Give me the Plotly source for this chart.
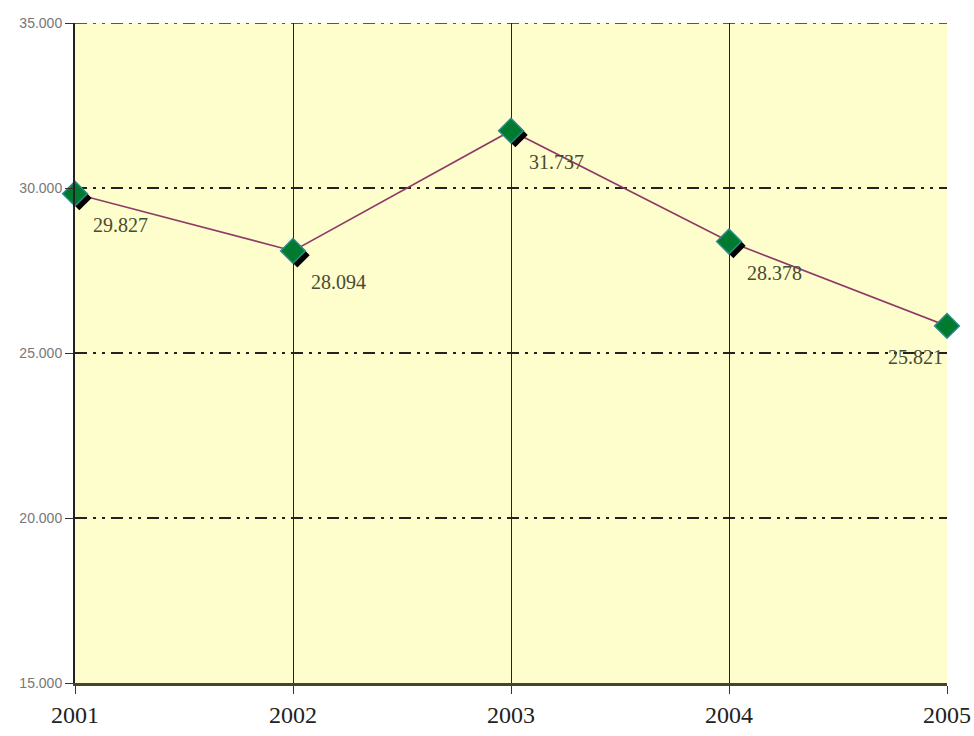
import plotly.graph_objects as go

years = [2001, 2002, 2003, 2004, 2005]
values = [29827, 28094, 31737, 28378, 25821]
labels = ["29.827", "28.094", "31.737", "28.378", "25.821"]
y_ticks = [15000, 20000, 25000, 30000, 35000]
y_ticklabels = ["15.000", "20.000", "25.000", "30.000", "35.000"]

# shadow offset (small, in data units) to mimic the Excel marker shadow
dx = 0.02
dy = -130

GRID_DASH = "12px,6px,3px,6px,3px,6px"

fig = go.Figure()
fig.add_trace(go.Scatter(
    x=years, y=values, mode="lines",
    line=dict(color="#8f3a66", width=1.6),
    hoverinfo="skip", cliponaxis=False, showlegend=False))
fig.add_trace(go.Scatter(
    x=[v + dx for v in years], y=[v + dy for v in values], mode="markers",
    marker=dict(symbol="diamond", size=19, color="#000000"),
    hoverinfo="skip", cliponaxis=False, showlegend=False))
fig.add_trace(go.Scatter(
    x=years, y=values, mode="markers",
    marker=dict(symbol="diamond", size=19, color="#007a2e",
                line=dict(color="#2a8a8a", width=1.5)),
    cliponaxis=False, showlegend=False))

for i, (xv, yv, t) in enumerate(zip(years, values, labels)):
    last = i == len(years) - 1
    fig.add_annotation(
        x=xv, y=yv, text=t, showarrow=False,
        xanchor="right" if last else "left", yanchor="middle",
        xshift=-2 if last else 16, yshift=-31,
        font=dict(family="Liberation Serif", size=20, color="#4a4a32"))

# top dash-dot grid line at the last y tick (plotly omits grid at the range edge)
fig.add_hline(y=y_ticks[-1], line=dict(color="#222222", width=1.5, dash=GRID_DASH))

fig.update_layout(
    width=974, height=736,
    margin=dict(l=75, r=27, t=23, b=53, autoexpand=False),
    paper_bgcolor="white", plot_bgcolor="#FEFDCC",
    showlegend=False,
)
fig.update_xaxes(
    range=[2001, 2005], tickvals=years, ticktext=[str(y) for y in years],
    showgrid=True, gridcolor="#222222", gridwidth=1,
    showline=True, linecolor="#45452c", linewidth=2.5,
    ticks="outside", ticklen=8, tickcolor="#333333",
    tickfont=dict(family="Liberation Serif", size=24, color="#222222"),
    zeroline=False, fixedrange=True, automargin=False,
)
fig.update_yaxes(
    range=[15000, 35000], tickvals=y_ticks, ticktext=y_ticklabels,
    showgrid=True, gridcolor="#222222", gridwidth=1.5,
    griddash=GRID_DASH,
    showline=True, linecolor="#222222", linewidth=2,
    ticks="outside", ticklen=8, tickcolor="#333333",
    tickfont=dict(family="Liberation Sans", size=14, color="#777777"),
    zeroline=False, fixedrange=True, automargin=False,
)

# remove the default 8px page margin so the figure fills the 974x736 window exactly
fig.write_html("out.html",
               config={"displayModeBar": False},
               post_script="document.body.style.margin='0';document.body.style.overflow='hidden';")
